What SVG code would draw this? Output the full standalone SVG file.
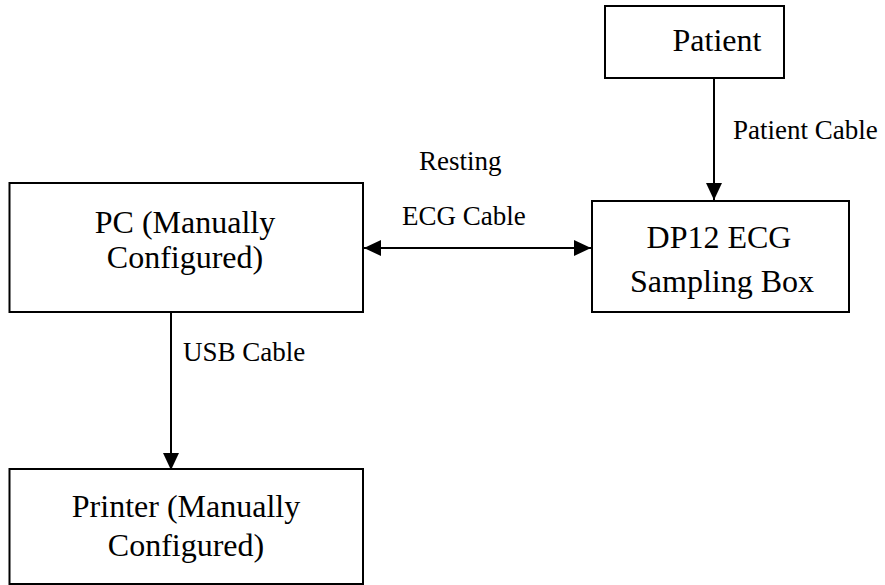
<svg xmlns="http://www.w3.org/2000/svg" width="885" height="585" viewBox="0 0 885 585">
  <style>
    .box { fill: #ffffff; stroke: #000000; stroke-width: 2; }
    .node-text { font-family: "Liberation Serif", "Times New Roman", serif; font-size: 32px; fill: #000000; text-anchor: middle; }
    .edge-text { font-family: "Liberation Serif", "Times New Roman", serif; font-size: 27px; fill: #000000; }
    .conn { fill: none; stroke: #000000; stroke-width: 2; }
  </style>
  <defs>
    <marker id="arrow" viewBox="0 0 17 16" refX="17" refY="8" markerWidth="17" markerHeight="16" markerUnits="userSpaceOnUse" orient="auto-start-reverse">
      <path d="M0,0 L17,8 L0,16 Z" fill="#000000"/>
    </marker>
  </defs>
  <rect width="885" height="585" fill="#ffffff"/>

  <g id="connectors">
    <path class="conn" d="M714,78 L714,200" marker-end="url(#arrow)"/>
    <path class="conn" d="M364,248 L591,248" marker-start="url(#arrow)" marker-end="url(#arrow)"/>
    <path class="conn" d="M171,312 L171,470" marker-end="url(#arrow)"/>
    <text class="edge-text" x="733" y="139">Patient Cable</text>
    <text class="edge-text" x="419" y="170">Resting</text>
    <text class="edge-text" x="402" y="225">ECG Cable</text>
    <text class="edge-text" x="183" y="361">USB Cable</text>
  </g>

  <g id="node-patient">
    <rect class="box" x="605" y="6" width="179" height="72"/>
    <text class="node-text" x="717" y="51">Patient</text>
  </g>

  <g id="node-pc">
    <rect class="box" x="9.5" y="183" width="353.5" height="129"/>
    <text class="node-text" x="185" y="233">PC (Manually</text>
    <text class="node-text" x="185" y="268">Configured)</text>
  </g>

  <g id="node-dp12">
    <rect class="box" x="592" y="201" width="257" height="111"/>
    <text class="node-text" x="719" y="248">DP12 ECG</text>
    <text class="node-text" x="722" y="292">Sampling Box</text>
  </g>

  <g id="node-printer">
    <rect class="box" x="9.5" y="469" width="353.5" height="115"/>
    <text class="node-text" x="186" y="517">Printer (Manually</text>
    <text class="node-text" x="186" y="556">Configured)</text>
  </g>
</svg>
